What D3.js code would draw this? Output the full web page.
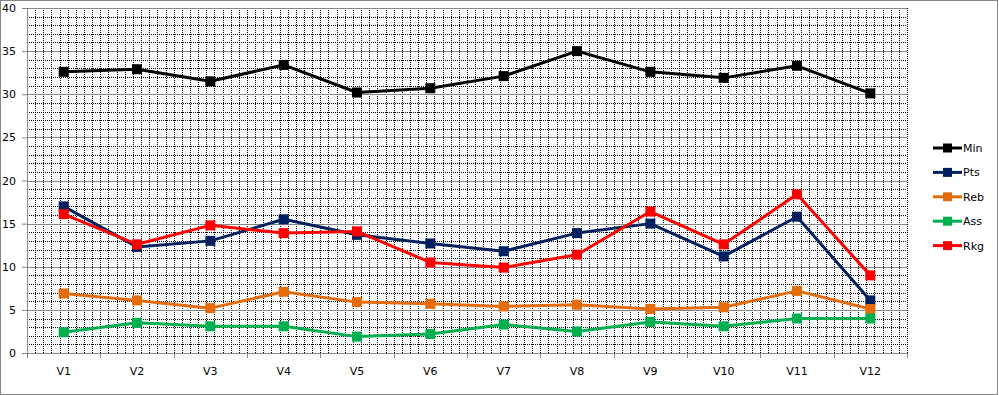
<!DOCTYPE html>
<html>
<head>
<meta charset="utf-8">
<script src="https://cdn.jsdelivr.net/npm/d3@7"></script>
<style>
  body { margin: 0; background: #fff; }
  text { font-family: "DejaVu Sans", sans-serif; fill: #000; }
</style>
</head>
<body>
<script>
var width = 999, height = 395;
var margin = { left: 27, right: 92, top: 8, bottom: 42 };

var categories = ["V1", "V2", "V3", "V4", "V5", "V6", "V7", "V8", "V9", "V10", "V11", "V12"];
var minValues = [32.6, 32.9, 31.5, 33.4, 30.2, 30.7, 32.1, 35.0, 32.6, 31.9, 33.3, 30.1];
var ptsValues = [17.0, 12.3, 13.0, 15.5, 13.7, 12.7, 11.8, 13.9, 15.0, 11.2, 15.8, 6.1];
var rebValues = [6.9, 6.1, 5.2, 7.1, 5.9, 5.7, 5.4, 5.6, 5.1, 5.3, 7.2, 5.1];
var assValues = [2.4, 3.5, 3.1, 3.1, 1.9, 2.2, 3.3, 2.5, 3.6, 3.1, 4.0, 4.0];
var rkgValues = [16.1, 12.6, 14.8, 13.9, 14.1, 10.5, 9.9, 11.4, 16.4, 12.6, 18.4, 9.0];
var yTicks = [0, 5, 10, 15, 20, 25, 30, 35, 40];

var series = [
  { name: "Min", color: "#000000", values: minValues },
  { name: "Pts", color: "#002060", values: ptsValues },
  { name: "Reb", color: "#E46C0A", values: rebValues },
  { name: "Ass", color: "#00B050", values: assValues },
  { name: "Rkg", color: "#FF0000", values: rkgValues }
];

var svg = d3.select("body").append("svg")
  .attr("width", width)
  .attr("height", height);

// outer border
svg.append("rect")
  .attr("x", 0.5).attr("y", 0.5)
  .attr("width", width - 2).attr("height", height - 1)
  .attr("fill", "#fff")
  .attr("stroke", "#868686");

var x = d3.scaleBand()
  .domain(categories)
  .range([margin.left, width - margin.right])
  .paddingInner(0).paddingOuter(0);
var y = d3.scaleLinear()
  .domain([0, 40])
  .range([height - margin.bottom, margin.top]);
var perCat = 9;
var xMinor = d3.scaleLinear()
  .domain([0, categories.length * perCat])
  .range([margin.left, width - margin.right]);

var plotLeft = margin.left, plotRight = width - margin.right;
var plotTop = margin.top, plotBottom = height - margin.bottom;

// minor dotted gridlines
var grid = svg.append("g").attr("shape-rendering", "crispEdges");
grid.selectAll(".vminor")
  .data(d3.range(1, categories.length * perCat + 1))
  .enter().append("line")
  .attr("x1", function (d) { return Math.round(xMinor(d)) + 0.5; })
  .attr("x2", function (d) { return Math.round(xMinor(d)) + 0.5; })
  .attr("y1", plotTop).attr("y2", plotBottom)
  .attr("stroke", "#000").attr("stroke-width", 1)
  .attr("stroke-dasharray", "1,1");
grid.selectAll(".hminor")
  .data(d3.range(1, 40).filter(function (d) { return d % 5 !== 0; }))
  .enter().append("line")
  .attr("x1", plotLeft).attr("x2", plotRight)
  .attr("y1", function (d) { return Math.round(y(d)) + 0.5; })
  .attr("y2", function (d) { return Math.round(y(d)) + 0.5; })
  .attr("stroke", "#000").attr("stroke-width", 1)
  .attr("stroke-dasharray", "1,1");

// major gridlines
grid.selectAll(".hmajor")
  .data(yTicks.slice(1))
  .enter().append("line")
  .attr("x1", plotLeft).attr("x2", plotRight)
  .attr("y1", function (d) { return Math.round(y(d)) + 0.5; })
  .attr("y2", function (d) { return Math.round(y(d)) + 0.5; })
  .attr("stroke", "#868686").attr("stroke-width", 1);

// y axis
var yAxis = d3.axisLeft(y).tickValues(yTicks).tickSize(5).tickPadding(6);
var gy = svg.append("g")
  .attr("transform", "translate(" + plotLeft + ",0)")
  .call(yAxis);
gy.select(".domain").attr("stroke", "#868686");
gy.selectAll(".tick line").attr("stroke", "#868686");
gy.selectAll("text")
  .attr("font-size", "11px")
  .attr("font-family", "DejaVu Sans, sans-serif")
  .attr("fill", "#000");

// x axis
var xAxis = d3.axisBottom(x).tickSize(0).tickPadding(14);
var gx = svg.append("g")
  .attr("transform", "translate(0," + plotBottom + ")")
  .call(xAxis);
gx.select(".domain").attr("stroke", "#868686");
gx.selectAll("text")
  .attr("font-size", "11px")
  .attr("font-family", "DejaVu Sans, sans-serif")
  .attr("fill", "#000");
gx.selectAll(".cattick")
  .data(d3.range(0, categories.length + 1))
  .enter().append("line")
  .attr("x1", function (d) { return Math.round(xMinor(d * perCat)) + 0.5; })
  .attr("x2", function (d) { return Math.round(xMinor(d * perCat)) + 0.5; })
  .attr("y1", 0).attr("y2", 5)
  .attr("stroke", "#868686");

// series
var cx = function (d, i) { return x(categories[i]) + x.bandwidth() / 2; };
var line = d3.line()
  .x(cx)
  .y(function (d) { return y(d); });

series.forEach(function (s) {
  var g = svg.append("g");
  g.append("path")
    .datum(s.values)
    .attr("fill", "none")
    .attr("stroke", s.color)
    .attr("stroke-width", 3)
    .attr("stroke-linejoin", "round")
    .attr("d", line);
  g.selectAll("rect")
    .data(s.values)
    .enter().append("rect")
    .attr("x", function (d, i) { return cx(d, i) - 5; })
    .attr("y", function (d) { return y(d) - 5; })
    .attr("width", 10).attr("height", 10)
    .attr("fill", s.color);
});

// legend
var legend = svg.append("g").attr("transform", "translate(933,148)");
var item = legend.selectAll("g")
  .data(series)
  .enter().append("g")
  .attr("transform", function (d, i) { return "translate(0," + (i * 24.4) + ")"; });
item.append("line")
  .attr("x1", 0).attr("x2", 29)
  .attr("y1", 0).attr("y2", 0)
  .attr("stroke", function (d) { return d.color; })
  .attr("stroke-width", 3);
item.append("rect")
  .attr("x", 10).attr("y", -4.5)
  .attr("width", 9).attr("height", 9)
  .attr("fill", function (d) { return d.color; });
item.append("text")
  .attr("x", 30).attr("y", 4)
  .attr("font-size", "11px")
  .text(function (d) { return d.name; });
</script>
</body>
</html>
